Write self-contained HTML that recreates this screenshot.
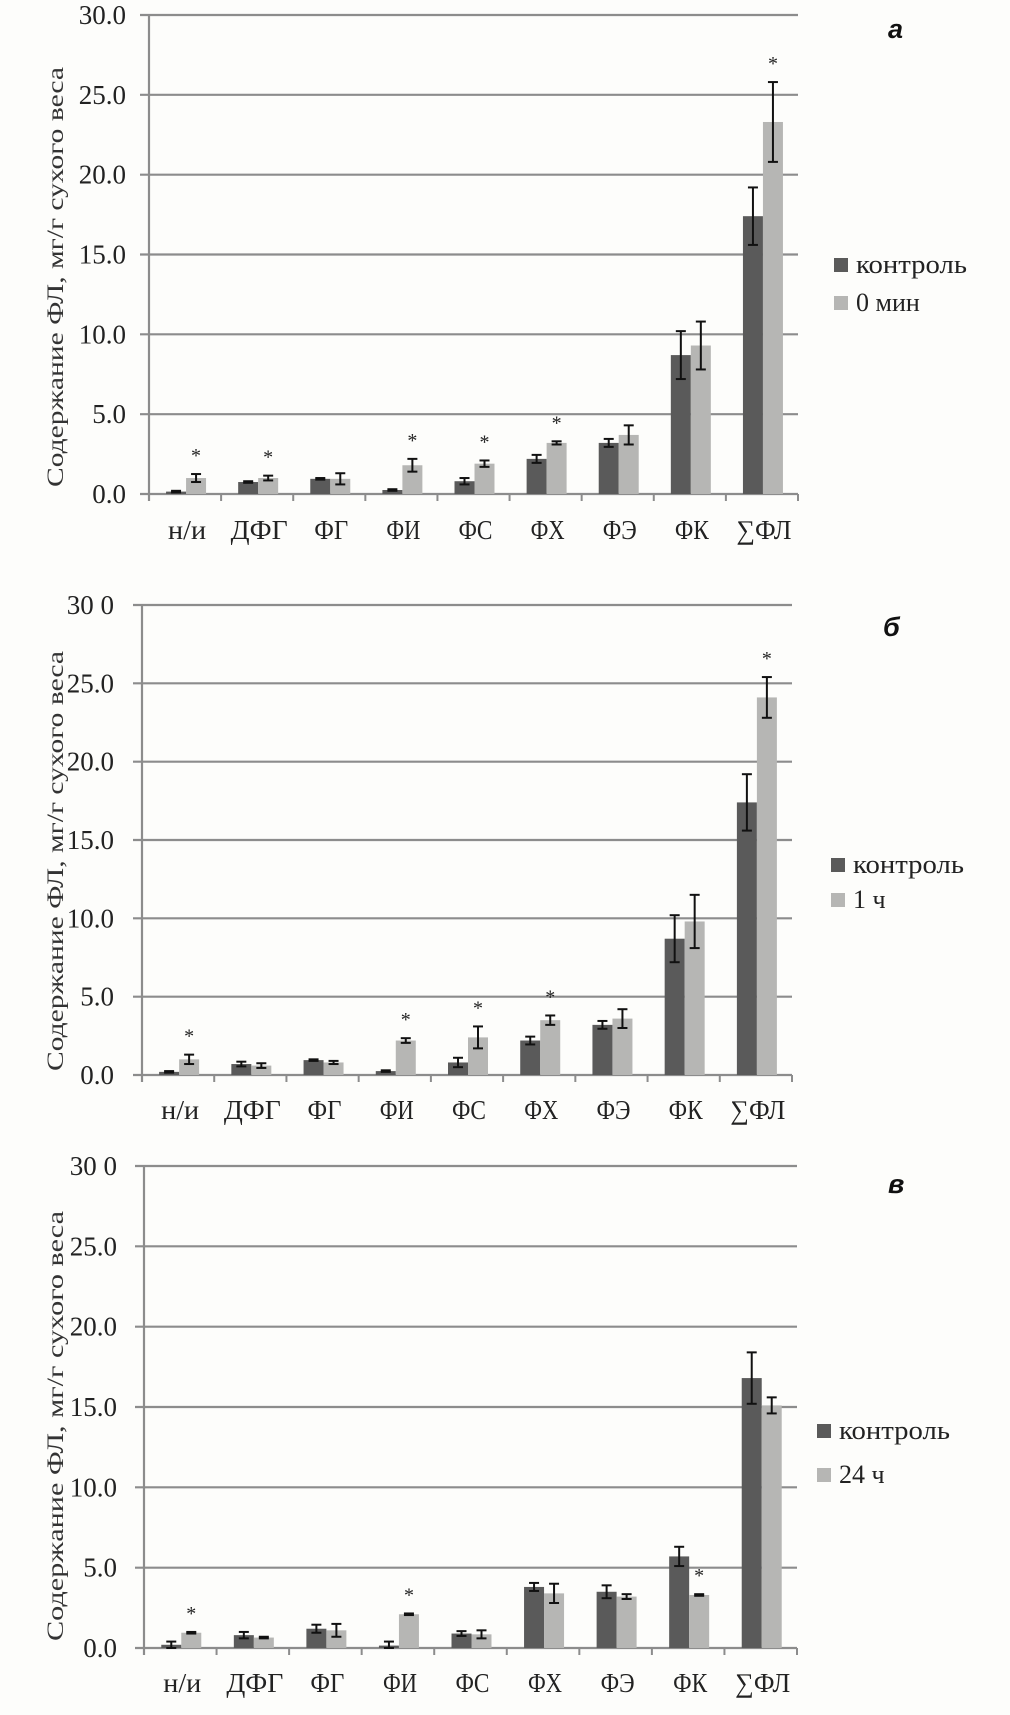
<!DOCTYPE html>
<html><head><meta charset="utf-8">
<style>
html,body{margin:0;padding:0;background:#fdfdfb;}
svg{display:block;}
.tick{font-family:"Liberation Serif",serif;font-size:27px;fill:#222;}
.cat{font-family:"Liberation Serif",serif;font-size:27px;fill:#222;}
.ytitle{font-family:"Liberation Serif",serif;font-size:23px;fill:#333;}
.leg{font-family:"Liberation Serif",serif;font-size:26px;fill:#222;}
.plabel{font-family:"Liberation Sans",sans-serif;font-size:27px;font-weight:bold;font-style:italic;fill:#111;}
.star{font-family:"Liberation Serif",serif;font-size:20px;fill:#222;}
</style></head>
<body>
<svg id="chart" width="1010" height="1715" viewBox="0 0 1010 1715" xmlns="http://www.w3.org/2000/svg"></svg>
<script>
const categories = ["н/и","ДФГ","ФГ","ФИ","ФС","ФХ","ФЭ","ФК","∑ФЛ"];
const catWidths = [38,57,34,34,34,34,34,34,55];
const yTicks = [0,5,10,15,20,25,30];
const tickLabelsA = ["0.0","5.0","10.0","15.0","20.0","25.0","30.0"];
const tickLabelsB = ["0.0","5.0","10.0","15.0","20.0","25.0","30 0"];
const tickLabelsC = ["0.0","5.0","10.0","15.0","20.0","25.0","30 0"];

const ctrlA = [0.15,0.75,0.95,0.25,0.8,2.2,3.2,8.7,17.4];
const ctrlAErr = [0.05,0.05,0.05,0.05,0.2,0.25,0.25,1.5,1.8];
const trtA = [1.0,1.0,0.95,1.8,1.9,3.2,3.7,9.3,23.3];
const trtAErr = [0.25,0.15,0.35,0.4,0.2,0.1,0.6,1.5,2.5];
const sigA = [1,1,0,1,1,1,0,0,1];

const ctrlB = [0.2,0.7,0.95,0.25,0.8,2.2,3.2,8.7,17.4];
const ctrlBErr = [0.05,0.15,0.05,0.05,0.3,0.25,0.25,1.5,1.8];
const trtB = [1.0,0.6,0.8,2.2,2.4,3.5,3.6,9.8,24.1];
const trtBErr = [0.3,0.15,0.1,0.15,0.7,0.3,0.6,1.7,1.3];
const sigB = [1,0,0,1,1,1,0,0,1];

const ctrlC = [0.2,0.8,1.2,0.15,0.9,3.8,3.5,5.7,16.8];
const ctrlCErr = [0.2,0.2,0.25,0.25,0.15,0.25,0.4,0.6,1.6];
const trtC = [0.95,0.65,1.1,2.1,0.85,3.4,3.2,3.3,15.1];
const trtCErr = [0.05,0.05,0.4,0.05,0.25,0.6,0.15,0.05,0.5];
const sigC = [1,0,0,1,0,0,0,1,0];

const NS = "http://www.w3.org/2000/svg";
const svg = document.getElementById("chart");
function mk(tag, attrs, parent){
  const e = document.createElementNS(NS, tag);
  for (const k in attrs) e.setAttribute(k, attrs[k]);
  (parent||svg).appendChild(e);
  return e;
}

const panels = [
  {id:"a", x0:149, x1:798, yTop:15, y0:494, labels:tickLabelsA, tickRight:126, catY:539, ytCenter:277, ytLen:420,
   ctrl:ctrlA, ctrlErr:ctrlAErr, trt:trtA, trtErr:trtAErr, sig:sigA, legend:"0 мин", legX:834, legY1:265, legY2:303, pl:"а", plX:888, plY:38},
  {id:"b", x0:142, x1:792, yTop:605, y0:1075, labels:tickLabelsB, tickRight:114, catY:1119, ytCenter:861, ytLen:420,
   ctrl:ctrlB, ctrlErr:ctrlBErr, trt:trtB, trtErr:trtBErr, sig:sigB, legend:"1 ч", legX:831, legY1:865, legY2:900, pl:"б", plX:883, plY:636},
  {id:"c", x0:144, x1:797, yTop:1166, y0:1648, labels:tickLabelsC, tickRight:117, catY:1692, ytCenter:1426, ytLen:430,
   ctrl:ctrlC, ctrlErr:ctrlCErr, trt:trtC, trtErr:trtCErr, sig:sigC, legend:"24 ч", legX:817, legY1:1431, legY2:1475, pl:"в", plX:888, plY:1193}
];

panels.forEach(p => {
  const g = mk("g", {});
  
  
  const yS = v => p.y0 - (v/30)*(p.y0 - p.yTop);
  const gw = (p.x1 - p.x0)/categories.length;
  const xS = i => p.x0 + gw*i;

  // gridlines and tick labels
  yTicks.forEach((t, i) => {
    const y = yS(t);
    const l = mk("line", {x1:p.x0-9, x2:p.x1, y1:y, y2:y, stroke:"#8c8c8c", "stroke-width":2.2}, g);
    
    
    const tx = mk("text", {x:p.tickRight, y:y+9, "text-anchor":"end", class:"tick"}, g);
    
    
    tx.textContent = p.labels[i];
  });
  // y axis
  const ax = mk("line", {x1:p.x0, x2:p.x0, y1:p.yTop, y2:p.y0+7, stroke:"#8c8c8c", "stroke-width":2.2}, g);
  
  
  // category ticks
  for (let i=1;i<=categories.length;i++){
    const t = mk("line", {x1:xS(i), x2:xS(i), y1:p.y0, y2:p.y0+7, stroke:"#8c8c8c", "stroke-width":2}, g);
    
    
  }
  // bars
  const bw = 20;
  categories.forEach((c, i) => {
    const cx = xS(i) + gw/2 + 1;
    const series = [[p.ctrl[i], p.ctrlErr[i], "#5a5a5a", cx-bw], [p.trt[i], p.trtErr[i], "#b6b6b4", cx]];
    series.forEach((s, k) => {
      const r = mk("rect", {x:s[3], y:yS(s[0]), width:bw, height:p.y0-yS(s[0]), fill:s[2]}, g);
      
      
      const ex = s[3]+bw/2, yt = yS(s[0]+s[1]), yb = yS(Math.max(0,s[0]-s[1]));
      const eg = mk("g", {stroke:"#111", "stroke-width":2}, g);
      
      
      mk("line", {x1:ex, x2:ex, y1:yt, y2:yb}, eg);
      mk("line", {x1:ex-5, x2:ex+5, y1:yt, y2:yt}, eg);
      mk("line", {x1:ex-5, x2:ex+5, y1:yb, y2:yb}, eg);
    });
    if (p.sig[i]) {
      const st = mk("text", {x:cx+bw/2, y:yS(p.trt[i]+p.trtErr[i])-12, "text-anchor":"middle", class:"star"}, g);
      
      
      st.textContent = "*";
    }
    const lt = mk("text", {x:xS(i)+gw/2+2, y:p.catY, "text-anchor":"middle", class:"cat", textLength:catWidths[i], lengthAdjust:"spacingAndGlyphs"}, g);
    
    
    lt.textContent = c;
  });
  // y title
  const yt = mk("text", {x:0, y:0, "text-anchor":"middle", class:"ytitle", transform:`translate(63 ${p.ytCenter}) rotate(-90)`, textLength:p.ytLen, lengthAdjust:"spacingAndGlyphs"}, g);
  
  
  yt.textContent = "Содержание ФЛ, мг/г сухого веса";
  // legend
  [[p.legY1,"#5a5a5a","контроль",111],[p.legY2,"#b6b6b4",p.legend,null]].forEach((L, k) => {
    const lg = mk("g", {}, g);
    
    
    mk("rect", {x:p.legX, y:L[0]-7, width:14, height:14, fill:L[1]}, lg);
    const a = {x:p.legX+22, y:L[0]+8, class:"leg"};
    if (L[3]) { a.textLength = L[3]; a.lengthAdjust = "spacingAndGlyphs"; }
    const t = mk("text", a, lg);
    t.textContent = L[2];
  });
  const pl = mk("text", {x:p.plX, y:p.plY, class:"plabel"}, g);
  
  
  pl.textContent = p.pl;
});
</script>
</body></html>
